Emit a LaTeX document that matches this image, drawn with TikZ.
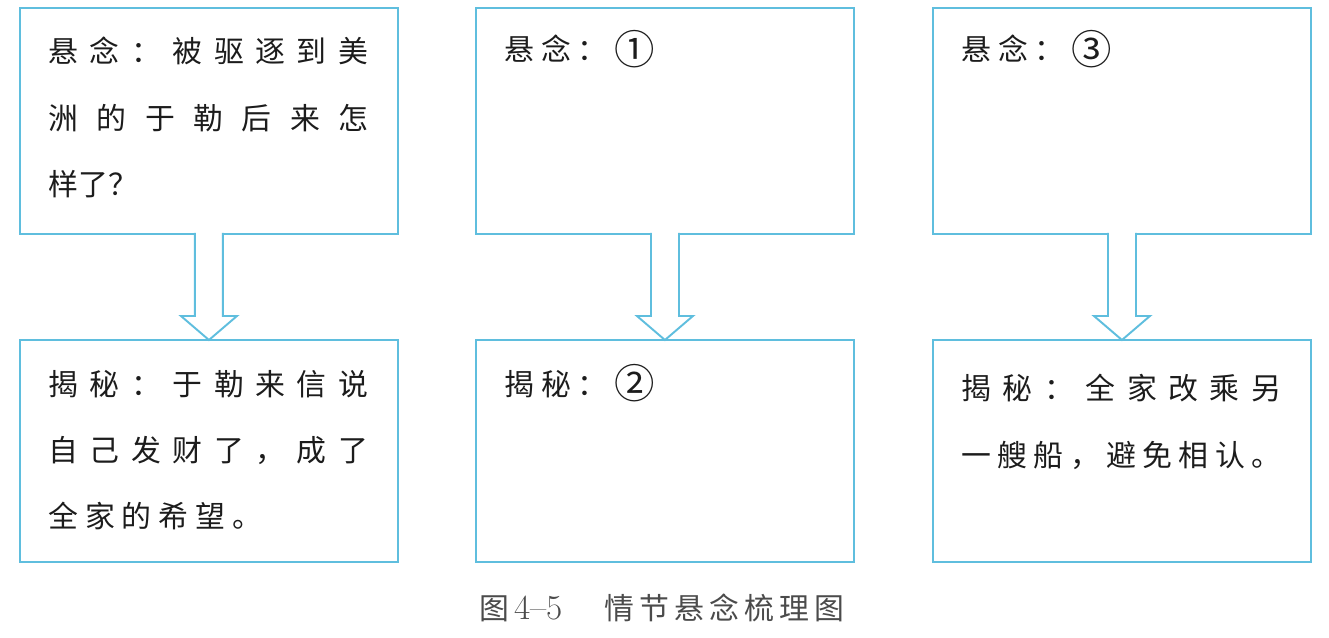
\documentclass[tikz,border=0pt]{standalone}
\usepackage{fontspec}
\newfontfamily\cjk{Noto Sans CJK SC}
\definecolor{boxblue}{RGB}{95,190,222}
\definecolor{inkgray}{RGB}{28,28,28}
\definecolor{capgray}{RGB}{75,75,75}
\newcommand{\jline}[1]{\makebox[6.4cm][s]{\spaceskip=0.15em plus 1fil\relax #1}}
\newcommand{\blank}[1]{\raisebox{-2pt}[0pt][0pt]{\fontsize{23}{23}\selectfont #1}}

\begin{document}
\begin{tikzpicture}[x=0.02cm, y=-0.02cm,
    panel/.style={draw=boxblue, line width=1.1pt, minimum width=7.56cm, inner sep=0pt, outer sep=0pt, anchor=north west},
    words/.style={inner sep=0pt, anchor=north west, text width=6.4cm, align=flush left, text=inkgray,
      font={\cjk\fontsize{17}{37.7}\selectfont\spaceskip=0.23em\relax}},
    hollow/.style={draw=boxblue, line width=1.1pt, fill=white, line join=miter}]
    \useasboundingbox (0,0) rectangle (1329,638);

    % top row: suspense
    \node[panel, minimum height=4.52cm] (t1) at (20,8) {};
    \node[panel, minimum height=4.52cm] (t2) at (476,8) {};
    \node[panel, minimum height=4.52cm] (t3) at (933,8) {};

    % bottom row: answer
    \node[panel, minimum height=4.44cm] (b1) at (20,340) {};
    \node[panel, minimum height=4.44cm] (b2) at (476,340) {};
    \node[panel, minimum height=4.44cm] (b3) at (933,340) {};

    \node[words] (s1) at ([shift={(28,29)}]t1.north west)
        {\jline{悬 念 ： 被 驱 逐 到 美}\\ \jline{洲 的 于 勒 后 来 怎}\\ 样了？};
    \node[words] (s2) at ([shift={(28,27)}]t2.north west) {悬 念 ： \blank{①}};
    \node[words] (s3) at ([shift={(28,27)}]t3.north west) {悬 念 ： \blank{③}};

    \node[words] (r1) at ([shift={(28,30)}]b1.north west)
        {\jline{揭 秘 ： 于 勒 来 信 说}\\ \jline{自 己 发 财 了 ， 成 了}\\ 全 家 的 希 望 。};
    \node[words] (r2) at ([shift={(28,30)}]b2.north west) {揭 秘 ： \blank{②}};
    \node[words] (r3) at ([shift={(28,34)}]b3.north west)
        {\jline{揭 秘 ： 全 家 改 乘 另}\\ \jline{一 艘 船 ， 避 免 相 认 。}};

    % hollow arrows
    \foreach \i in {1,2,3}
      \draw[hollow] ([shift={(-14,-1)}]t\i.south) -- ([shift={(-14,-24)}]b\i.north)
        -- ([shift={(-28,-24)}]b\i.north) -- (b\i.north) -- ([shift={(28,-24)}]b\i.north)
        -- ([shift={(14,-24)}]b\i.north) -- ([shift={(14,-1)}]t\i.south);

    \node[text=capgray, font={\cjk\fontsize{17}{20}\selectfont\spaceskip=0.17em\relax}] (cap) at (662,608)
        {图\,{\rmfamily\fontsize{20}{20}\selectfont 4–5}\hspace{1.4em}情 节 悬 念 梳 理 图};
\end{tikzpicture}
\end{document}
